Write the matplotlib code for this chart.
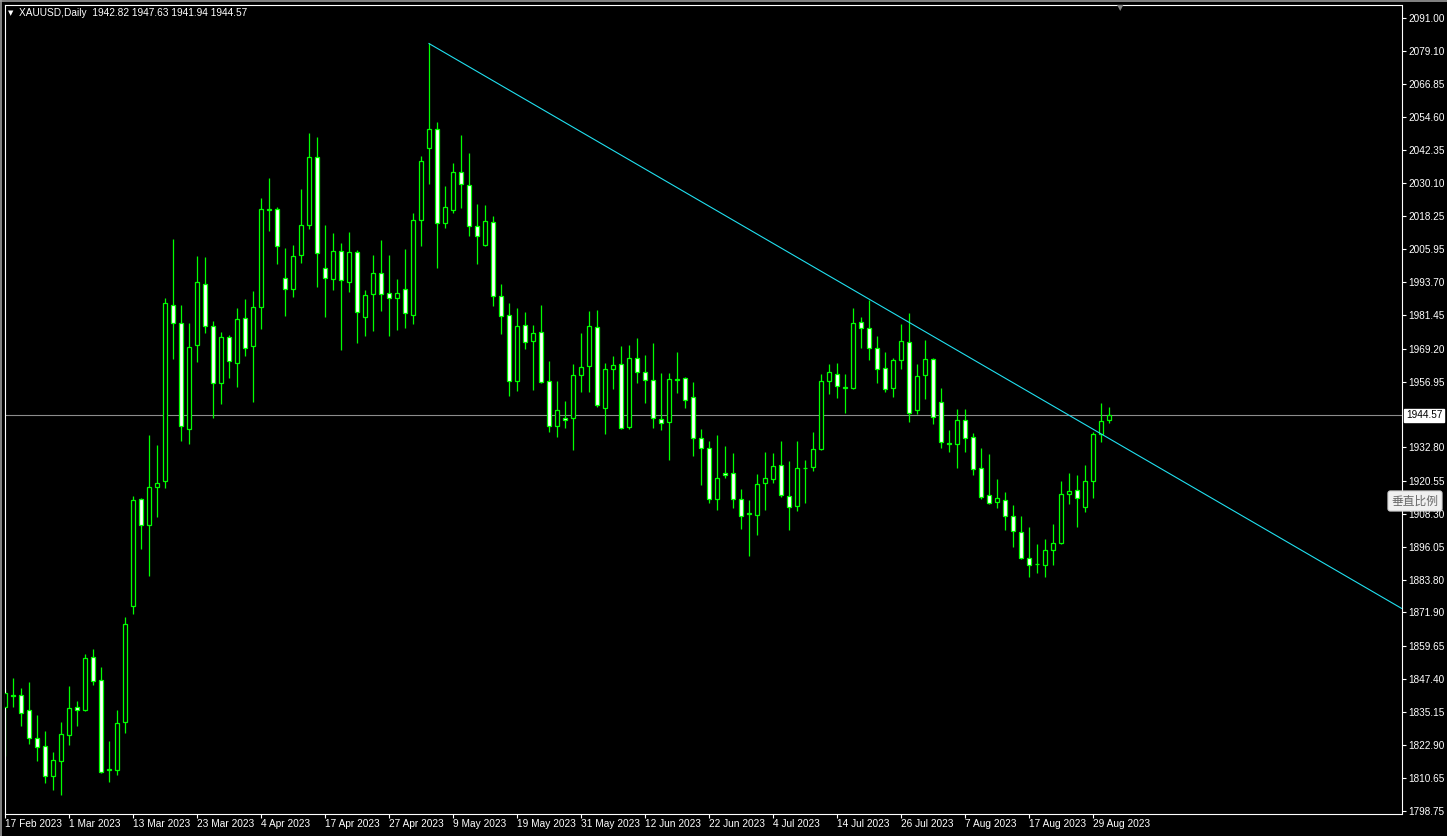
import matplotlib.pyplot as plt
from matplotlib.lines import Line2D
import numpy as np

# XAUUSD daily candles, 17 Feb 2023 .. 31 Aug 2023
opens = [1836.9, 1841.4, 1841.3, 1835.8, 1825.5, 1822.5, 1811.5, 1817.2, 1826.8, 1836.9,
         1835.8, 1855.4, 1846.9, 1813.6, 1813.9, 1831.6, 1874.4, 1913.6, 1904.0, 1918.1,
         1920.5, 1985.2, 1978.5, 1939.4, 1970.4, 1992.9, 1977.4, 1956.4, 1973.4, 1963.8,
         1980.4, 1970.3, 1984.4, 2020.7, 2020.6, 1995.3, 1991.1, 2003.6, 2014.7, 2040.0,
         1999.0, 1994.8, 2005.1, 1993.9, 2004.7, 1981.0, 1989.2, 1997.0, 1989.6, 1987.8,
         1991.1, 1981.5, 2016.7, 2043.3, 2050.1, 2015.6, 2020.4, 2034.2, 2029.4, 2014.5,
         2007.5, 2015.8, 1988.5, 1981.5, 1957.4, 1977.8, 1971.9, 1975.2, 1957.1, 1940.5,
         1943.5, 1943.5, 1959.4, 1962.7, 1977.1, 1947.2, 1961.6, 1963.4, 1940.4, 1965.6,
         1960.5, 1957.5, 1943.1, 1942.0, 1957.6, 1958.2, 1951.2, 1936.1, 1932.4, 1913.6,
         1923.2, 1923.2, 1913.6, 1908.2, 1907.7, 1919.5, 1921.2, 1926.2, 1914.7, 1911.0,
         1925.1, 1925.4, 1932.3, 1957.1, 1959.9, 1954.8, 1954.6, 1978.9, 1976.7, 1969.3,
         1961.9, 1954.8, 1964.9, 1971.5, 1946.4, 1959.4, 1965.3, 1949.4, 1934.2, 1934.1,
         1942.8, 1936.5, 1925.1, 1915.1, 1912.5, 1913.3, 1907.4, 1901.5, 1891.9, 1889.7,
         1889.3, 1894.8, 1897.4, 1915.5, 1916.9, 1910.7, 1920.3, 1937.6, 1942.82]
highs = [1843.7, 1847.6, 1843.9, 1846.2, 1834.1, 1828.2, 1820.3, 1831.5, 1844.8, 1839.2,
         1856.6, 1858.4, 1851.8, 1824.5, 1835.9, 1870.3, 1914.8, 1914.0, 1937.2, 1933.7,
         1987.9, 2009.5, 1985.2, 1978.5, 2003.4, 2003.0, 1979.4, 1975.2, 1974.1, 1984.2,
         1987.5, 1990.4, 2024.7, 2032.1, 2021.3, 2006.3, 2007.3, 2027.9, 2048.6, 2047.1,
         2014.7, 2011.8, 2008.0, 2012.2, 2005.6, 1990.8, 2003.7, 2009.3, 2003.7, 1994.8,
         2005.9, 2019.2, 2040.2, 2081.8, 2052.8, 2029.2, 2037.5, 2047.9, 2041.2, 2022.5,
         2022.2, 2018.1, 1992.9, 1985.9, 1984.1, 1982.6, 1977.9, 1985.2, 1964.6, 1957.3,
         1949.9, 1963.5, 1975.0, 1983.0, 1983.4, 1963.8, 1966.5, 1970.2, 1970.5, 1973.1,
         1966.8, 1971.3, 1960.1, 1960.1, 1967.9, 1958.6, 1956.8, 1939.4, 1935.1, 1937.2,
         1933.2, 1930.6, 1917.3, 1913.4, 1922.8, 1931.0, 1930.6, 1935.0, 1927.6, 1935.0,
         1928.0, 1938.3, 1959.7, 1963.5, 1963.9, 1959.8, 1984.1, 1980.7, 1987.1, 1973.8,
         1967.9, 1965.6, 1978.3, 1982.2, 1963.5, 1972.3, 1965.8, 1954.6, 1939.2, 1946.9,
         1946.9, 1938.1, 1932.4, 1930.2, 1921.0, 1916.2, 1911.4, 1907.4, 1903.3, 1897.0,
         1898.9, 1904.4, 1920.3, 1923.2, 1922.5, 1926.2, 1938.3, 1949.0, 1947.63]
lows = [1819.1, 1837.1, 1830.0, 1823.5, 1817.2, 1809.1, 1806.4, 1804.6, 1823.1, 1830.1,
        1835.5, 1845.3, 1812.8, 1809.5, 1812.1, 1827.5, 1871.3, 1895.3, 1885.4, 1907.2,
        1917.9, 1965.5, 1935.2, 1934.1, 1964.4, 1975.1, 1943.7, 1948.9, 1958.5, 1955.1,
        1966.6, 1949.6, 1976.5, 2012.7, 2000.5, 1981.3, 1988.3, 2000.9, 2013.4, 1992.0,
        1981.0, 1990.8, 1968.7, 1990.2, 1971.4, 1974.0, 1975.8, 1983.2, 1974.0, 1976.1,
        1976.9, 1978.4, 2007.0, 2029.9, 1998.9, 2013.7, 2019.2, 2021.1, 2010.7, 2000.4,
        2007.1, 1984.9, 1974.6, 1951.8, 1953.7, 1968.9, 1953.9, 1956.6, 1938.6, 1936.7,
        1940.0, 1931.9, 1953.3, 1953.3, 1947.8, 1937.8, 1954.2, 1939.6, 1939.4, 1956.4,
        1949.0, 1939.8, 1939.2, 1928.1, 1952.9, 1947.4, 1929.7, 1919.0, 1912.4, 1909.8,
        1921.4, 1910.5, 1902.8, 1892.7, 1900.5, 1909.7, 1919.7, 1914.6, 1902.4, 1909.4,
        1912.4, 1924.2, 1931.8, 1952.3, 1950.9, 1945.6, 1954.4, 1969.5, 1965.1, 1956.6,
        1953.3, 1951.5, 1961.8, 1942.2, 1945.2, 1950.5, 1941.3, 1932.7, 1931.0, 1925.3,
        1931.2, 1922.7, 1913.9, 1912.0, 1910.4, 1902.3, 1896.1, 1891.5, 1885.1, 1886.6,
        1884.9, 1889.3, 1897.2, 1911.8, 1903.5, 1909.0, 1914.2, 1934.9, 1941.94]
closes = [1842.1, 1840.9, 1834.9, 1825.5, 1822.4, 1811.5, 1817.4, 1827.0, 1836.5, 1835.8,
          1855.0, 1846.7, 1813.2, 1814.0, 1831.0, 1867.6, 1913.3, 1904.0, 1918.1, 1919.5,
          1985.9, 1978.5, 1940.5, 1969.7, 1993.7, 1977.4, 1956.4, 1973.4, 1964.5, 1980.0,
          1969.3, 1984.4, 2020.6, 2020.3, 2006.9, 1991.1, 2003.2, 2014.7, 2039.8, 2004.3,
          1995.1, 2005.1, 1994.4, 2004.7, 1982.6, 1988.9, 1997.0, 1989.2, 1987.8, 1989.6,
          1982.2, 2016.5, 2038.3, 2050.1, 2015.6, 2021.3, 2034.2, 2030.0, 2014.5, 2010.6,
          2016.1, 1988.7, 1981.3, 1957.4, 1977.4, 1971.5, 1974.8, 1957.0, 1940.5, 1946.4,
          1942.8, 1959.4, 1962.3, 1977.4, 1948.3, 1961.6, 1963.0, 1939.8, 1965.6, 1960.5,
          1957.5, 1943.5, 1941.6, 1957.9, 1957.9, 1950.1, 1936.1, 1932.4, 1913.6, 1921.4,
          1922.5, 1913.6, 1907.4, 1908.4, 1919.2, 1921.4, 1925.8, 1915.1, 1910.7, 1925.1,
          1925.3, 1932.1, 1957.1, 1960.5, 1955.3, 1954.9, 1978.5, 1976.7, 1969.3, 1961.8,
          1954.4, 1964.9, 1971.9, 1945.3, 1959.0, 1965.3, 1943.9, 1934.6, 1934.0, 1942.8,
          1936.3, 1924.9, 1914.6, 1912.1, 1914.0, 1907.4, 1901.8, 1891.9, 1889.3, 1889.8,
          1894.8, 1897.4, 1915.5, 1916.6, 1914.0, 1920.3, 1937.6, 1942.4, 1944.57]

date_labels = ['17 Feb 2023', '1 Mar 2023', '13 Mar 2023', '23 Mar 2023', '4 Apr 2023',
               '17 Apr 2023', '27 Apr 2023', '9 May 2023', '19 May 2023', '31 May 2023',
               '12 Jun 2023', '22 Jun 2023', '4 Jul 2023', '14 Jul 2023', '26 Jul 2023',
               '7 Aug 2023', '17 Aug 2023', '29 Aug 2023']
price_ticks = [2091.00, 2079.10, 2066.85, 2054.60, 2042.35, 2030.10, 2018.25, 2005.95,
               1993.70, 1981.45, 1969.20, 1956.95, 1932.80, 1920.55, 1908.30, 1896.05,
               1883.80, 1871.90, 1859.65, 1847.40, 1835.15, 1822.90, 1810.65, 1798.75]

# trend line: from the 1 May high down through the mid-July high, extended to the edge
trend_x = [53, 174.56]
trend_y = [2081.7, 1873.4]
last_price = 1944.57
header = 'XAUUSD,Daily  1942.82 1947.63 1941.94 1944.57'

W, H = 1447, 836
FONT = 'Liberation Sans'
fig = plt.figure(figsize=(W / 100, H / 100), dpi=100, facecolor='black')
ax = fig.add_axes([4.5 / W, 1 - 813.5 / H, 1397 / W, 809 / H], facecolor='black')

x = np.arange(len(opens))
o = np.array(opens)
c = np.array(closes)
up = c >= o
green = '#00ff00'

ax.axhline(last_price, color='#8c8c8c', lw=0.8, zorder=1)
ax.vlines(x, lows, highs, color=green, lw=0.9, zorder=2)
ax.bar(x, np.abs(c - o), bottom=np.minimum(o, c), width=0.5,
       color=np.where(up, 'black', 'white'), edgecolor=green, linewidth=0.9, zorder=3)
ax.plot(trend_x, trend_y, color='#20e0f0', lw=0.8, zorder=4)

ax.set_xlim(-0.0625, 174.56)
ax.set_ylim(1797.74, 2096.1)

for s in ax.spines.values():
    s.set_color('white')
    s.set_linewidth(0.8)

ax.set_xticks(np.arange(0, len(date_labels) * 8, 8))
ax.set_xticklabels(date_labels, ha='left', fontfamily=FONT)
ax.tick_params(axis='x', colors='white', direction='out', length=3, width=0.8,
               labelsize=7.3, pad=1.2)
ax.yaxis.tick_right()
ax.set_yticks(price_ticks)
ax.set_yticklabels([f'{v:.2f}' for v in price_ticks], fontfamily=FONT)
ax.tick_params(axis='y', colors='white', direction='out', length=3, width=0.8,
               labelsize=7.2, pad=2)

# current price tag on the right axis
ax.annotate(f'{last_price:.2f}', xy=(1, last_price), xycoords=('axes fraction', 'data'),
            xytext=(3.2, 0), textcoords='offset points', va='center', ha='left',
            fontsize=7.2, fontfamily=FONT, color='black', zorder=10,
            bbox=dict(boxstyle='square,pad=0.15', fc='white', ec='white'),
            annotation_clip=False)

# header line
fig.text(8 / W, 1 - 13 / H, '\u25BC', color='white', fontsize=5, va='center', ha='left')
fig.text(19 / W, 1 - 13 / H, header, color='white', fontsize=7.3, fontfamily=FONT,
         va='center', ha='left')

# chart shift marker and the scale button
fig.text(1120 / W, 1 - 7.5 / H, '\u25BC', color='#808080', fontsize=6, va='center', ha='center',
         fontfamily='DejaVu Sans')
fig.text(1415 / W, 1 - 501 / H, '垂直比例', color='#6a6a6a', fontsize=8.5,
         fontfamily=['Noto Sans CJK SC', 'DejaVu Sans'], va='center', ha='center', zorder=20,
         bbox=dict(boxstyle='round,pad=0.3,rounding_size=0.2', fc='#f0f0f0', ec='#d0d0d0', lw=0.8))

# window border
fig.add_artist(Line2D([0.8 / W, 0.8 / W], [0, 1], color='#9a9a9a', lw=1.2))
fig.add_artist(Line2D([0, 1], [1 - 0.6 / H, 1 - 0.6 / H], color='#9a9a9a', lw=1.2))

fig.savefig('out.png', dpi=100, facecolor='black')
